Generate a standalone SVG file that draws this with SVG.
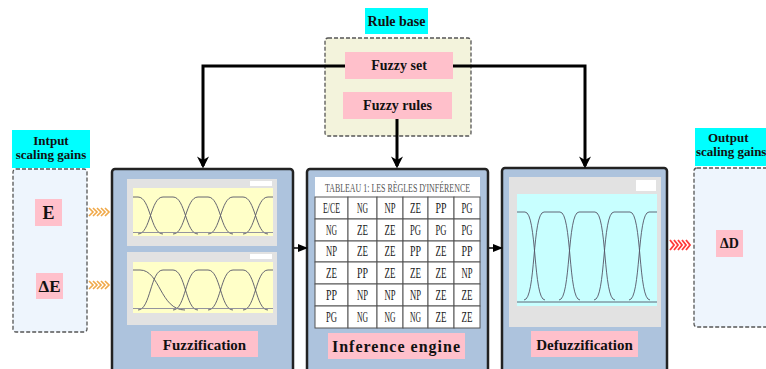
<svg xmlns="http://www.w3.org/2000/svg" width="766" height="369" viewBox="0 0 766 369">
<defs>
<style>
.lbl{font-family:"Liberation Serif","Times New Roman",serif;font-weight:bold;fill:#111;text-anchor:middle}
.cyan{fill:#00ffff}
.pink{fill:#ffc0cb}
.main{fill:#adc3dd;stroke:#222;stroke-width:2.5}
.dash{stroke:#555;stroke-width:1.3;stroke-dasharray:4 2}
.conn{fill:none;stroke:#000;stroke-width:3}
.thin{fill:none;stroke:#000;stroke-width:1.5}
.panel{fill:#e2e2e2}
.mf{fill:none;stroke:#556;stroke-width:0.9}
.tbl{font-family:"Liberation Serif","Times New Roman",serif;font-size:15px;fill:#222}
.cell{fill:#fff;stroke:#555;stroke-width:1}
.och{fill:none;stroke:#f0a848;stroke-width:1.6}
.rch{fill:none;stroke:#ff3a3a;stroke-width:1.8}
</style>
<marker id="ah" viewBox="0 0 10 10" refX="8" refY="5" markerWidth="4" markerHeight="4" orient="auto">
<path d="M0,0 L10,5 L0,10 L3,5 z" fill="#000"/>
</marker>
<marker id="ahs" viewBox="0 0 10 10" refX="8" refY="5" markerWidth="7" markerHeight="7" orient="auto">
<path d="M0,1 L10,5 L0,9 z" fill="#000"/>
</marker>
<clipPath id="c1"><rect x="133" y="188" width="140" height="48"/></clipPath>
<clipPath id="c2"><rect x="133" y="262" width="140" height="51"/></clipPath>
<clipPath id="c3"><rect x="517" y="194" width="140" height="112"/></clipPath>
</defs>
<rect width="766" height="369" fill="#fff"/>

<!-- Rule base -->
<g id="rulebase">
<rect x="365" y="8" width="63" height="26" class="cyan"/>
<text x="396.5" y="26" class="lbl" style="font-size:14px">Rule base</text>
<rect x="325" y="38" width="146" height="98" rx="3" fill="#f3f3dc" class="dash"/>
</g>
<g id="fuzzyset">
<rect x="345" y="52" width="108" height="27" class="pink"/>
<text x="399" y="70" class="lbl" style="font-size:14px">Fuzzy set</text>
</g>
<g id="fuzzyrules">
<rect x="343" y="92" width="109" height="27" class="pink"/>
<text x="397.5" y="110" class="lbl" style="font-size:14px">Fuzzy rules</text>
</g>

<!-- Input -->
<g id="input">
<rect x="12" y="130" width="78" height="38" class="cyan"/>
<text x="51" y="145" class="lbl" style="font-size:13px">Intput</text>
<text x="51" y="159" class="lbl" style="font-size:13px">scaling gains</text>
<rect x="13" y="169" width="74" height="163" rx="3" fill="#eef5fd" class="dash"/>
<rect x="35" y="199" width="27" height="27" class="pink"/>
<text x="48.5" y="219" class="lbl" style="font-size:18px">E</text>
<rect x="36" y="273" width="27" height="26" class="pink"/>
<text x="49.5" y="292" class="lbl" style="font-size:17px">ΔE</text>
</g>

<!-- Output -->
<g id="output">
<rect x="695" y="128" width="75" height="38" class="cyan"/>
<text x="708" y="142" class="lbl" style="font-size:13px;text-anchor:start">Output</text>
<text x="696" y="156" class="lbl" style="font-size:13px;text-anchor:start">scaling gains</text>
<rect x="694" y="168" width="80" height="159" rx="3" fill="#eef5fd" class="dash"/>
<rect x="716" y="230" width="27" height="27" class="pink"/>
<text x="729.5" y="248" class="lbl" style="font-size:14px">ΔD</text>
</g>

<!-- Fuzzification -->
<g id="fuzzification">
<rect x="112" y="169" width="181" height="205" rx="3" class="main"/>
<rect x="127" y="179" width="150" height="67" class="panel"/>
<rect x="133" y="188" width="140" height="48" fill="#ffffc8"/>
<rect x="250" y="181" width="22" height="5" fill="#fff"/>
<g clip-path="url(#c1)" class="mf">
<path d="M68,234 C80.5,234 80.5,197 93,197 L103,197 C115.5,197 115.5,234 128,234"/>
<path d="M103,234 C115.5,234 115.5,197 128,197 L138,197 C150.5,197 150.5,234 163,234"/>
<path d="M138,234 C150.5,234 150.5,197 163,197 L173,197 C185.5,197 185.5,234 198,234"/>
<path d="M173,234 C185.5,234 185.5,197 198,197 L208,197 C220.5,197 220.5,234 233,234"/>
<path d="M208,234 C220.5,234 220.5,197 233,197 L243,197 C255.5,197 255.5,234 268,234"/>
<path d="M243,234 C255.5,234 255.5,197 268,197 L278,197 C290.5,197 290.5,234 303,234"/>
<path d="M133,232.5 H273" stroke="#889"/>
</g>
<rect x="127" y="252" width="150" height="73" class="panel"/>
<rect x="133" y="262" width="140" height="51" fill="#ffffc8"/>
<rect x="250" y="254" width="22" height="5" fill="#fff"/>
<g clip-path="url(#c2)" class="mf">
<path d="M103,310 C115.5,310 115.5,270 128,270 L140,270 C160,270 160,310 185,310"/>
<path d="M138,310 C150.5,310 150.5,270 163,270 L173,270 C185.5,270 185.5,310 198,310"/>
<path d="M173,310 C185.5,310 185.5,270 198,270 L208,270 C220.5,270 220.5,310 233,310"/>
<path d="M208,310 C220.5,310 220.5,270 233,270 L243,270 C255.5,270 255.5,310 268,310"/>
<path d="M243,310 C255.5,310 255.5,270 268,270 L278,270 C290.5,270 290.5,310 303,310"/>
<path d="M133,308.5 H273" stroke="#889"/>
</g>
<rect x="151" y="331" width="107" height="26" class="pink"/>
<text x="204.5" y="350" class="lbl" style="font-size:15px">Fuzzification</text>
</g>

<!-- Inference engine -->
<g id="inference">
<rect x="307" y="169" width="181" height="205" rx="3" class="main"/>
<rect x="315" y="177" width="165" height="20" fill="#fff"/>
<text x="325" y="192" class="tbl" style="font-size:12px;fill:#555" textLength="145" lengthAdjust="spacingAndGlyphs">TABLEAU 1: LES RÈGLES D'INFÉRENCE</text>
<g>
<rect x="315" y="197" width="33" height="22" class="cell"/><rect x="348" y="197" width="29" height="22" class="cell"/><rect x="377" y="197" width="26" height="22" class="cell"/><rect x="403" y="197" width="25" height="22" class="cell"/><rect x="428" y="197" width="26" height="22" class="cell"/><rect x="454" y="197" width="26" height="22" class="cell"/>
<rect x="315" y="219" width="33" height="22" class="cell"/><rect x="348" y="219" width="29" height="22" class="cell"/><rect x="377" y="219" width="26" height="22" class="cell"/><rect x="403" y="219" width="25" height="22" class="cell"/><rect x="428" y="219" width="26" height="22" class="cell"/><rect x="454" y="219" width="26" height="22" class="cell"/>
<rect x="315" y="241" width="33" height="21" class="cell"/><rect x="348" y="241" width="29" height="21" class="cell"/><rect x="377" y="241" width="26" height="21" class="cell"/><rect x="403" y="241" width="25" height="21" class="cell"/><rect x="428" y="241" width="26" height="21" class="cell"/><rect x="454" y="241" width="26" height="21" class="cell"/>
<rect x="315" y="262" width="33" height="22" class="cell"/><rect x="348" y="262" width="29" height="22" class="cell"/><rect x="377" y="262" width="26" height="22" class="cell"/><rect x="403" y="262" width="25" height="22" class="cell"/><rect x="428" y="262" width="26" height="22" class="cell"/><rect x="454" y="262" width="26" height="22" class="cell"/>
<rect x="315" y="284" width="33" height="22" class="cell"/><rect x="348" y="284" width="29" height="22" class="cell"/><rect x="377" y="284" width="26" height="22" class="cell"/><rect x="403" y="284" width="25" height="22" class="cell"/><rect x="428" y="284" width="26" height="22" class="cell"/><rect x="454" y="284" width="26" height="22" class="cell"/>
<rect x="315" y="306" width="33" height="22" class="cell"/><rect x="348" y="306" width="29" height="22" class="cell"/><rect x="377" y="306" width="26" height="22" class="cell"/><rect x="403" y="306" width="25" height="22" class="cell"/><rect x="428" y="306" width="26" height="22" class="cell"/><rect x="454" y="306" width="26" height="22" class="cell"/>
</g>
<g class="tbl">
<text x="323" y="213" textLength="17" lengthAdjust="spacingAndGlyphs">E/CE</text>
<text x="357" y="213" textLength="11" lengthAdjust="spacingAndGlyphs">NG</text><text x="384.5" y="213" textLength="11" lengthAdjust="spacingAndGlyphs">NP</text><text x="410" y="213" textLength="11" lengthAdjust="spacingAndGlyphs">ZE</text><text x="435.5" y="213" textLength="11" lengthAdjust="spacingAndGlyphs">PP</text><text x="461.5" y="213" textLength="11" lengthAdjust="spacingAndGlyphs">PG</text>
<text x="326" y="235" textLength="11" lengthAdjust="spacingAndGlyphs">NG</text><text x="357" y="235" textLength="11" lengthAdjust="spacingAndGlyphs">ZE</text><text x="384.5" y="235" textLength="11" lengthAdjust="spacingAndGlyphs">ZE</text><text x="410" y="235" textLength="11" lengthAdjust="spacingAndGlyphs">PG</text><text x="435.5" y="235" textLength="11" lengthAdjust="spacingAndGlyphs">PG</text><text x="461.5" y="235" textLength="11" lengthAdjust="spacingAndGlyphs">PG</text>
<text x="326" y="256" textLength="11" lengthAdjust="spacingAndGlyphs">NP</text><text x="357" y="256" textLength="11" lengthAdjust="spacingAndGlyphs">ZE</text><text x="384.5" y="256" textLength="11" lengthAdjust="spacingAndGlyphs">ZE</text><text x="410" y="256" textLength="11" lengthAdjust="spacingAndGlyphs">PP</text><text x="435.5" y="256" textLength="11" lengthAdjust="spacingAndGlyphs">ZE</text><text x="461.5" y="256" textLength="11" lengthAdjust="spacingAndGlyphs">PP</text>
<text x="326" y="278" textLength="11" lengthAdjust="spacingAndGlyphs">ZE</text><text x="357" y="278" textLength="11" lengthAdjust="spacingAndGlyphs">PP</text><text x="384.5" y="278" textLength="11" lengthAdjust="spacingAndGlyphs">ZE</text><text x="410" y="278" textLength="11" lengthAdjust="spacingAndGlyphs">ZE</text><text x="435.5" y="278" textLength="11" lengthAdjust="spacingAndGlyphs">ZE</text><text x="461.5" y="278" textLength="11" lengthAdjust="spacingAndGlyphs">NP</text>
<text x="326" y="300" textLength="11" lengthAdjust="spacingAndGlyphs">PP</text><text x="357" y="300" textLength="11" lengthAdjust="spacingAndGlyphs">NP</text><text x="384.5" y="300" textLength="11" lengthAdjust="spacingAndGlyphs">NP</text><text x="410" y="300" textLength="11" lengthAdjust="spacingAndGlyphs">NP</text><text x="435.5" y="300" textLength="11" lengthAdjust="spacingAndGlyphs">ZE</text><text x="461.5" y="300" textLength="11" lengthAdjust="spacingAndGlyphs">ZE</text>
<text x="326" y="322" textLength="11" lengthAdjust="spacingAndGlyphs">PG</text><text x="357" y="322" textLength="11" lengthAdjust="spacingAndGlyphs">NG</text><text x="384.5" y="322" textLength="11" lengthAdjust="spacingAndGlyphs">NG</text><text x="410" y="322" textLength="11" lengthAdjust="spacingAndGlyphs">NG</text><text x="435.5" y="322" textLength="11" lengthAdjust="spacingAndGlyphs">ZE</text><text x="461.5" y="322" textLength="11" lengthAdjust="spacingAndGlyphs">ZE</text>
</g>
<rect x="328" y="333" width="137" height="26" class="pink"/>
<text x="396.5" y="352" class="lbl" style="font-size:16px;letter-spacing:1px">Inference engine</text>
</g>

<!-- Defuzzification -->
<g id="defuzzification">
<rect x="502" y="168" width="165" height="206" rx="3" class="main"/>
<rect x="509" y="177" width="152" height="150" class="panel"/>
<rect x="517" y="194" width="140" height="112" fill="#c8ffff"/>
<rect x="636" y="180" width="20" height="11" fill="#fff"/>
<g clip-path="url(#c3)" class="mf">
<path d="M454,300 C466,300 462,212 474,212 L525,212 C537,212 533,300 545,300"/>
<path d="M524,300 C536,300 532,212 544,212 L560,212 C572,212 568,300 580,300"/>
<path d="M559,300 C571,300 567,212 579,212 L595,212 C607,212 603,300 615,300"/>
<path d="M594,300 C606,300 602,212 614,212 L630,212 C642,212 638,300 650,300"/>
<path d="M629,300 C641,300 637,212 649,212 L700,212"/>
<path d="M517,302 H657" stroke="#556"/>
</g>
<rect x="531" y="331" width="107" height="26" class="pink"/>
<text x="584.5" y="350" class="lbl" style="font-size:15px">Defuzzification</text>
</g>

<!-- Connectors -->
<g id="connectors">
<path d="M345,66 H203 V166" class="conn" marker-end="url(#ah)"/>
<path d="M453,66 H585 V166" class="conn" marker-end="url(#ah)"/>
<path d="M397,119 V166" class="conn" marker-end="url(#ah)"/>
<path d="M294,248 H306" class="thin" marker-end="url(#ahs)"/>
<path d="M489,248 H501" class="thin" marker-end="url(#ahs)"/>
<g class="och">
<path d="M89,208 l4,4 l-4,4 M93,208 l4,4 l-4,4 M97,208 l4,4 l-4,4 M101,208 l4,4 l-4,4 M105,208 l4,4 l-4,4"/>
<path d="M89,281 l4,4 l-4,4 M93,281 l4,4 l-4,4 M97,281 l4,4 l-4,4 M101,281 l4,4 l-4,4 M105,281 l4,4 l-4,4"/>
</g>
<g class="rch">
<path d="M670,240 l4,5 l-4,5 M674,240 l4,5 l-4,5 M678,240 l4,5 l-4,5 M682,240 l4,5 l-4,5 M686,240 l4,5 l-4,5"/>
</g>
</g>
</svg>
